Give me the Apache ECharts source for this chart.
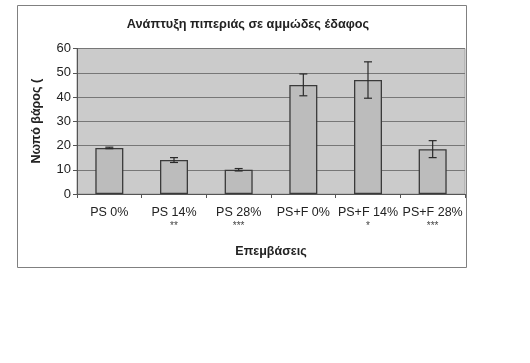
<!DOCTYPE html>
<html>
<head>
<meta charset="utf-8">
<script src="https://cdn.jsdelivr.net/npm/echarts@6/dist/echarts.min.js"></script>
<style>
html,body{margin:0;padding:0;background:#fff;}
#c{width:530px;height:363px;}
</style>
</head>
<body>
<div id="c"></div>
<script>
var categories = ['PS 0%', 'PS 14%', 'PS 28%', 'PS+F 0%', 'PS+F 14%', 'PS+F 28%'];
var significance = ['', '**', '***', '', '*', '***'];
var values = [19, 14, 10, 45, 47, 18.5];
var errors = [0.3, 1, 0.5, 4.5, 7.5, 3.5];
var yTicks = [0, 10, 20, 30, 40, 50, 60];

var chart = echarts.init(document.getElementById('c'), null, {renderer: 'canvas'});
var FONT = '"Liberation Sans", Arial, sans-serif';

var errData = values.map(function (v, i) { return [i, v - errors[i], v + errors[i]]; });

chart.setOption({
  animation: false,
  backgroundColor: '#ffffff',
  graphic: [{
    type: 'rect', left: 17, top: 5, z: -10,
    shape: {width: 449, height: 262},
    style: {fill: '#ffffff', stroke: '#808080', lineWidth: 1}
  }],
  title: {
    text: 'Ανάπτυξη πιπεριάς σε αμμώδες έδαφος',
    left: 243, top: 13, textAlign: 'center',
    textStyle: {fontFamily: FONT, fontSize: 12.7, fontWeight: 'bold', color: '#222'}
  },
  grid: {
    left: 77, right: 65, top: 48.5, bottom: 169,
    show: true, backgroundColor: '#cbcbcb', borderColor: '#a0a0a0', borderWidth: 1
  },
  xAxis: {
    type: 'category',
    data: categories.map(function (c, i) { return significance[i] ? c + '\n{s|' + significance[i] + '}' : c; }),
    name: 'Επεμβάσεις', nameLocation: 'middle', nameGap: 51,
    nameTextStyle: {fontFamily: FONT, fontSize: 12.5, fontWeight: 'bold', color: '#222'},
    axisLine: {lineStyle: {color: '#555', width: 1}},
    axisTick: {show: true, length: 4, lineStyle: {color: '#555'}},
    axisLabel: {
      interval: 0, margin: 12, fontFamily: FONT, fontSize: 12.5, color: '#222', lineHeight: 14,
      rich: {s: {fontFamily: FONT, fontSize: 10, color: '#444', lineHeight: 12}}
    }
  },
  yAxis: {
    type: 'value', min: yTicks[0], max: yTicks[yTicks.length - 1], interval: 10,
    name: 'Νωπό βάρος (', nameLocation: 'middle', nameGap: 34, nameRotate: 90,
    nameTextStyle: {fontFamily: FONT, fontSize: 12.5, fontWeight: 'bold', color: '#222'},
    axisLine: {show: true, lineStyle: {color: '#555'}},
    axisTick: {show: true, length: 4, lineStyle: {color: '#555'}},
    axisLabel: {margin: 6, fontFamily: FONT, fontSize: 13, color: '#222'},
    splitLine: {show: true, lineStyle: {color: '#777', width: 1}}
  },
  series: [{
    type: 'bar', data: values, barWidth: 28,
    itemStyle: {color: '#bcbcbc', borderColor: '#3a3a3a', borderWidth: 1.3},
    z: 2
  }, {
    type: 'custom', data: errData, z: 3,
    renderItem: function (params, api) {
      var x = api.value(0);
      var lo = api.coord([x, api.value(1)]);
      var hi = api.coord([x, api.value(2)]);
      var hw = 4;
      var st = {stroke: '#2a2a2a', lineWidth: 1.2};
      return {type: 'group', children: [
        {type: 'line', shape: {x1: lo[0], y1: lo[1], x2: hi[0], y2: hi[1]}, style: st},
        {type: 'line', shape: {x1: lo[0] - hw, y1: lo[1], x2: lo[0] + hw, y2: lo[1]}, style: st},
        {type: 'line', shape: {x1: hi[0] - hw, y1: hi[1], x2: hi[0] + hw, y2: hi[1]}, style: st}
      ]};
    }
  }]
});
</script>
</body>
</html>
